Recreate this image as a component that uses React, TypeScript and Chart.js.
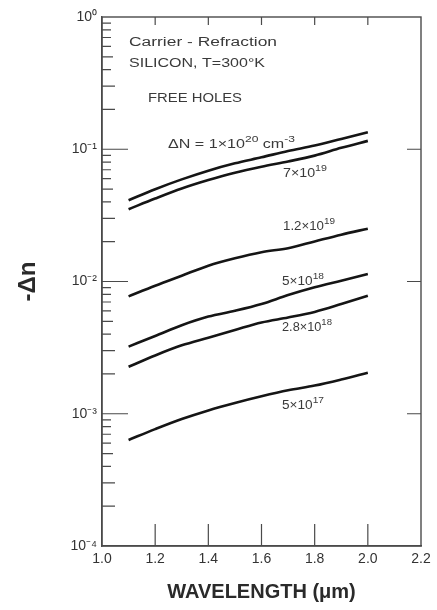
import React, { useEffect, useRef } from "react";
import { Chart, registerables } from "chart.js";

Chart.register(...registerables);

// Wavelength samples (µm)
const wavelengths = [1.1, 1.2, 1.3, 1.4, 1.5, 1.6, 1.7, 1.8, 1.9, 2.0];

// -Δn values for each carrier density curve
const n1e20 = [0.0412, 0.0499, 0.0592, 0.0689, 0.0783, 0.0869, 0.097, 0.1066, 0.1197, 0.1346];
const n7e19 = [0.0352, 0.0424, 0.0505, 0.0585, 0.0665, 0.0738, 0.0808, 0.0895, 0.1025, 0.1157];
const n12e19 = [0.00772, 0.00929, 0.01107, 0.01318, 0.015, 0.01666, 0.01786, 0.0201, 0.0226, 0.0251];
const n5e18 = [0.00322, 0.00387, 0.00467, 0.00543, 0.006, 0.00675, 0.00789, 0.00903, 0.01014, 0.0114];
const n28e18 = [0.002265, 0.00276, 0.00329, 0.00376, 0.0043, 0.0049, 0.00534, 0.00589, 0.00675, 0.0078];
const n5e17 = [0.000634, 0.000765, 0.000912, 0.00106, 0.001206, 0.001355, 0.001504, 0.001633, 0.001815, 0.00204];

const seriesList = [n1e20, n7e19, n12e19, n5e18, n28e18, n5e17];

// Axis ticks
const xTickValues = [1.0, 1.2, 1.4, 1.6, 1.8, 2.0, 2.2];
const yTickValues = [1e-4, 1e-3, 1e-2, 1e-1, 1];
const yTickLabels = ["10\u207B\u2074", "10\u207B\u00B3", "10\u207B\u00B2", "10\u207B\u00B9", "10\u2070"];

// Annotation texts (^{..} marks a superscript)
const noteTexts = [
  "Carrier - Refraction",
  "SILICON, T=300\u00B0K",
  "FREE HOLES",
  "\u0394N = 1\u00D710^{20} cm^{-3}",
  "7\u00D710^{19}",
  "1.2\u00D710^{19}",
  "5\u00D710^{18}",
  "2.8\u00D710^{18}",
  "5\u00D710^{17}",
];
// layout of annotations: [left px, center y px, target width px]
const noteLayout: [number, number, number][] = [
  [129, 43, 148],
  [129, 64, 136],
  [148, 99, 94],
  [168, 145, 127],
  [283, 174, 44],
  [283, 227, 52],
  [282, 282, 42],
  [282, 328, 50],
  [282, 406, 42],
];

const FONT = "'Liberation Sans', Arial, sans-serif";

function parseRich(t: string): { s: string; sup: boolean }[] {
  const out: { s: string; sup: boolean }[] = [];
  const re = /\^\{([^}]*)\}/g;
  let last = 0;
  let m: RegExpExecArray | null;
  while ((m = re.exec(t))) {
    if (m.index > last) out.push({ s: t.slice(last, m.index), sup: false });
    out.push({ s: m[1], sup: true });
    last = m.index + m[0].length;
  }
  if (last < t.length) out.push({ s: t.slice(last), sup: false });
  return out;
}

const decorPlugin = {
  id: "decor",
  afterDatasetsDraw(chart: any) {
    const { ctx, chartArea, scales } = chart;
    const { left, right, top, bottom } = chartArea;
    const x = scales.x;
    const y = scales.y;
    ctx.save();
    ctx.strokeStyle = "#4a4a4a";
    ctx.lineWidth = 1.4;
    ctx.strokeRect(left, top, right - left, bottom - top);

    ctx.lineWidth = 1.2;
    ctx.beginPath();
    for (const v of xTickValues) {
      const px = x.getPixelForValue(v);
      if (v > 1.0 && v < 2.2) {
        ctx.moveTo(px, bottom);
        ctx.lineTo(px, bottom - 22);
        ctx.moveTo(px, top);
        ctx.lineTo(px, top + 8);
      }
    }
    for (const d of yTickValues) {
      const py = y.getPixelForValue(d);
      if (d > 1e-4 && d < 1) {
        ctx.moveTo(left, py);
        ctx.lineTo(left + 26, py);
        ctx.moveTo(right, py);
        ctx.lineTo(right - 14, py);
      }
      if (d < 1) {
        for (let m = 2; m <= 9; m++) {
          const pm = y.getPixelForValue(d * m);
          const len = m <= 3 ? 13 : m === 5 ? 11 : 9;
          ctx.moveTo(left, pm);
          ctx.lineTo(left + len, pm);
        }
      }
    }
    ctx.stroke();

    ctx.fillStyle = "#3a3a3a";
    ctx.textBaseline = "middle";
    ctx.textAlign = "left";
    const baseFont = `12px ${FONT}`;
    const supFont = `9px ${FONT}`;
    noteTexts.forEach((t, i) => {
      const [lx, cy, w] = noteLayout[i];
      const parts = parseRich(t);
      let total = 0;
      for (const p of parts) {
        ctx.font = p.sup ? supFont : baseFont;
        total += ctx.measureText(p.s).width;
      }
      ctx.save();
      ctx.translate(lx, cy);
      ctx.scale(w / total, 1);
      let cx = 0;
      for (const p of parts) {
        ctx.font = p.sup ? supFont : baseFont;
        ctx.fillText(p.s, cx, p.sup ? -5 : 0);
        cx += ctx.measureText(p.s).width;
      }
      ctx.restore();
    });
    ctx.restore();
  },
};

export default function App() {
  const ref = useRef<HTMLCanvasElement | null>(null);
  useEffect(() => {
    if (!ref.current) return;
    const chart = new Chart(ref.current, {
      type: "line",
      data: {
        datasets: seriesList.map((s) => ({
          data: wavelengths.map((w, i) => ({ x: w, y: s[i] })),
          borderColor: "#151515",
          borderWidth: 2.6,
          pointRadius: 0,
          fill: false,
          cubicInterpolationMode: "monotone" as const,
        })),
      },
      plugins: [decorPlugin],
      options: {
        animation: false,
        responsive: false,
        devicePixelRatio: 1,
        layout: { padding: { left: 0, right: 16, top: 17, bottom: 0 } },
        plugins: { legend: { display: false }, tooltip: { enabled: false } },
        scales: {
          x: {
            type: "linear",
            min: 1.0,
            max: 2.2,
            afterBuildTicks: (s: any) => {
              s.ticks = xTickValues.map((v) => ({ value: v }));
            },
            afterFit: (s: any) => {
              s.height = 64;
            },
            grid: { display: false, drawTicks: false },
            border: { display: true, color: "#4a4a4a", width: 1.4 },
            ticks: {
              padding: 5,
              color: "#333",
              font: { family: FONT, size: 14 },
              maxRotation: 0,
              callback: (v: any) => Number(v).toFixed(1),
            },
            title: {
              display: true,
              text: "WAVELENGTH (\u03BCm)",
              color: "#2a2a2a",
              font: { family: FONT, size: 20, weight: "bold" },
              padding: { top: 0, bottom: 6 },
            },
          },
          y: {
            type: "logarithmic",
            min: 1e-4,
            max: 1,
            afterBuildTicks: (s: any) => {
              s.ticks = yTickValues.map((v) => ({ value: v }));
            },
            afterFit: (s: any) => {
              s.width = 102;
            },
            grid: { display: false, drawTicks: false },
            border: { display: true, color: "#4a4a4a", width: 1.4 },
            ticks: {
              padding: 5,
              color: "#333",
              font: { family: FONT, size: 14 },
              callback: (v: any) => {
                const i = yTickValues.findIndex((t) => Math.abs(Math.log10(t) - Math.log10(Number(v))) < 1e-6);
                return i >= 0 ? yTickLabels[i] : "";
              },
            },
            title: {
              display: true,
              text: "-\u0394n",
              color: "#2a2a2a",
              font: { family: FONT, size: 24, weight: "bold" },
              padding: { top: 14, bottom: 0 },
            },
          },
        },
      },
    });
    return () => chart.destroy();
  }, []);
  return (
    <div style={{ position: "absolute", left: 0, top: 0, width: 437, height: 610, background: "#fff" }}>
      <canvas ref={ref} width={437} height={610} />
    </div>
  );
}
